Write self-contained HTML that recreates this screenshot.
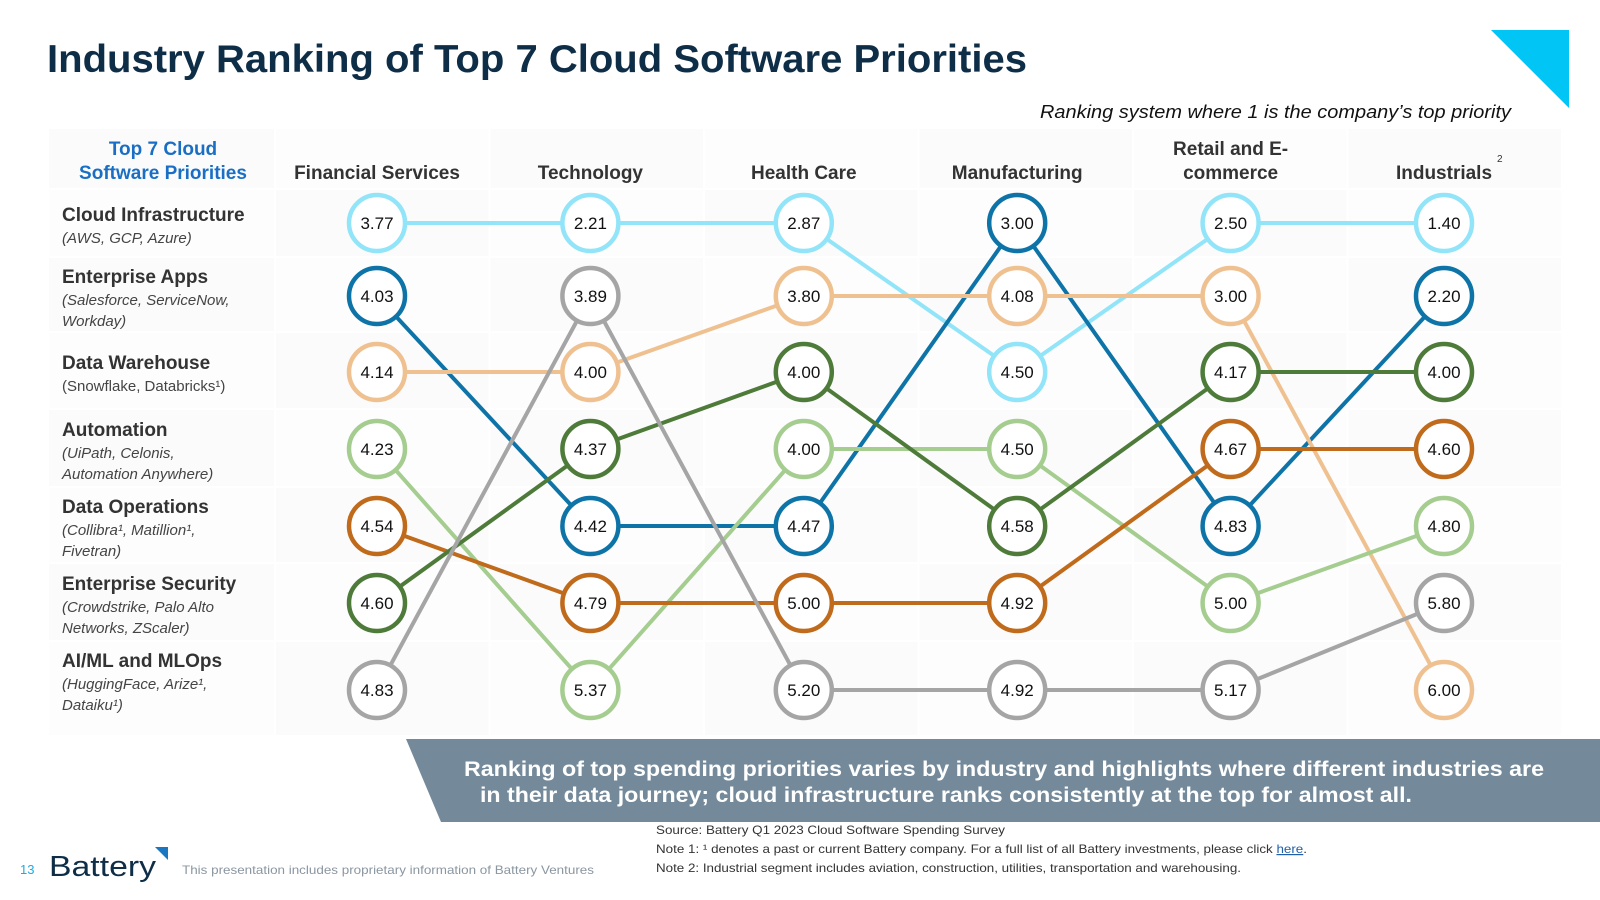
<!DOCTYPE html>
<html><head><meta charset="utf-8">
<style>
html,body{margin:0;padding:0;background:#fff;}
svg{display:block;font-family:"Liberation Sans",Arial,sans-serif;}
</style></head>
<body>
<svg id="chart" width="1600" height="900" viewBox="0 0 1600 900" xmlns="http://www.w3.org/2000/svg">
  <text x="47" y="72" font-size="39" font-weight="bold" fill="#0e2d47" textLength="980" lengthAdjust="spacingAndGlyphs">Industry Ranking of Top 7 Cloud Software Priorities</text>
  <polygon points="1491,30 1569,30 1569,108" fill="#00c5f5"/>
  <text x="1040" y="118" font-size="18" font-style="italic" fill="#111" textLength="471" lengthAdjust="spacingAndGlyphs">Ranking system where 1 is the company’s top priority</text>
  <g id="table-bg"></g>
  <text x="163" y="155" font-size="19" font-weight="bold" fill="#1a6fc4" text-anchor="middle">Top 7 Cloud</text>
  <text x="163" y="179" font-size="19" font-weight="bold" fill="#1a6fc4" text-anchor="middle">Software Priorities</text>
  <g id="labels"></g>
  <g id="lines"></g>
  <g id="circles"></g>
  <polygon points="406,739 1600,739 1600,822 441,822" fill="#748a9b"/>
  <text x="464" y="776" font-size="21" font-weight="bold" fill="#fff" textLength="1080" lengthAdjust="spacingAndGlyphs">Ranking of top spending priorities varies by industry and highlights where different industries are</text>
  <text x="480" y="802" font-size="21" font-weight="bold" fill="#fff" textLength="932" lengthAdjust="spacingAndGlyphs">in their data journey; cloud infrastructure ranks consistently at the top for almost all.</text>
  <text x="656" y="834" font-size="12" fill="#333" textLength="349" lengthAdjust="spacingAndGlyphs">Source: Battery Q1 2023 Cloud Software Spending Survey</text>
  <text x="656" y="853" font-size="12" fill="#333" textLength="651" lengthAdjust="spacingAndGlyphs">Note 1: ¹ denotes a past or current Battery company. For a full list of all Battery investments, please click <tspan fill="#1f5fa8" text-decoration="underline">here</tspan>.</text>
  <text x="656" y="872" font-size="12" fill="#333" textLength="585" lengthAdjust="spacingAndGlyphs">Note 2: Industrial segment includes aviation, construction, utilities, transportation and warehousing.</text>
  <text x="20" y="874" font-size="13" fill="#27a9d8">13</text>
  <text x="49" y="876" font-size="29" fill="#0e2d47" textLength="107" lengthAdjust="spacingAndGlyphs">Battery</text>
  <polygon points="155,847 168,847 168,860" fill="#1a78c2"/>
  <text x="182" y="874" font-size="12" fill="#8a96a0" textLength="412" lengthAdjust="spacingAndGlyphs">This presentation includes proprietary information of Battery Ventures</text>
</svg>
<script>
const industries = ["Financial Services","Technology","Health Care","Manufacturing","Retail and E-commerce","Industrials"];
const priorities = ["Cloud Infrastructure","Enterprise Apps","Data Warehouse","Automation","Data Operations","Enterprise Security","AI/ML and MLOps"];
const subtitles = [["(AWS, GCP, Azure)"],["(Salesforce, ServiceNow,","Workday)"],["(Snowflake, Databricks¹)"],["(UiPath, Celonis,","Automation Anywhere)"],["(Collibra¹, Matillion¹,","Fivetran)"],["(Crowdstrike, Palo Alto","Networks, ZScaler)"],["(HuggingFace, Arize¹,","Dataiku¹)"]];
const cloudInfra   = [3.77,2.21,2.87,4.50,2.50,1.40];
const enterpriseApps = [4.03,4.42,4.47,3.00,4.83,2.20];
const dataWarehouse = [4.14,4.00,3.80,4.08,3.00,6.00];
const automation   = [4.23,5.37,4.00,4.50,5.00,4.80];
const dataOps      = [4.54,4.79,5.00,4.92,4.67,4.60];
const entSecurity  = [4.60,4.37,4.00,4.58,4.17,4.00];
const aiml         = [4.83,3.89,5.20,4.92,5.17,5.80];
const seriesValues = [cloudInfra,enterpriseApps,dataWarehouse,automation,dataOps,entSecurity,aiml];
const seriesColors = ["#92e4f8","#0e74a8","#f0c190","#a5cd90","#c06a1c","#4e7b3a","#a5a5a5"];

const NS="http://www.w3.org/2000/svg";
const colX = i => 377 + i*213.4;
const rowY = r => [223,296,372,449,526,603,690][r];
function mk(tag,attrs,parent){const e=document.createElementNS(NS,tag);for(const k in attrs)e.setAttribute(k,attrs[k]);parent.appendChild(e);return e;}

const ranks = seriesValues.map(()=>[]);
for(let c=0;c<industries.length;c++){
  const idx = seriesValues.map((_,i)=>i);
  idx.sort((a,b)=>{const d=seriesValues[a][c]-seriesValues[b][c]; if(Math.abs(d)>1e-9) return d; return c>0?ranks[a][c-1]-ranks[b][c-1]:a-b;});
  idx.forEach((s,r)=>ranks[s][c]=r);
}

const bg=document.getElementById('table-bg');
const rowBounds=[129,190,258,333,410,488,564,642,737];
for(let r=0;r<8;r++){
  for(let c=0;c<7;c++){
    const x0 = c===0?49:(c===1?276:276+(c-1)*214.5);
    const w = c===0?225:212.5;
    const rc=mk('rect',{x:x0,y:rowBounds[r],width:w,height:rowBounds[r+1]-rowBounds[r]-2,fill:(r+c)%2?'#fdfdfd':'#fbfbfb'},bg);
    
    
  }
}

const lab=document.getElementById('labels');
industries.forEach((n,i)=>{
  if(n==="Retail and E-commerce"){
    const t1=mk('text',{x:colX(i),y:155,'font-size':19,'font-weight':'bold',fill:'#333','text-anchor':'middle'},lab);t1.textContent="Retail and E-";
    
    
    const t2=mk('text',{x:colX(i),y:179,'font-size':19,'font-weight':'bold',fill:'#333','text-anchor':'middle'},lab);t2.textContent="commerce";
    
    
  } else {
    const t=mk('text',{x:colX(i),y:179,'font-size':19,'font-weight':'bold',fill:'#333','text-anchor':'middle'},lab);t.textContent=n;
    
    
  }
});
const sup=mk('text',{x:1497,y:162,'font-size':10,fill:'#333'},lab);sup.textContent="2";



const labelTop=[221,283,369,436,513,590,667];
priorities.forEach((p,i)=>{
  const t=mk('text',{x:62,y:labelTop[i],'font-size':19,'font-weight':'bold',fill:'#333'},lab);t.textContent=p;
  
  
  subtitles[i].forEach((s,j)=>{
    const st=mk('text',{x:62,y:labelTop[i]+22+j*21,'font-size':15,'font-style':i===2?'normal':'italic',fill:'#444'},lab);st.textContent=s;
    
    
  });
});

const lg=document.getElementById('lines'), cg=document.getElementById('circles');
seriesValues.forEach((vals,s)=>{
  const pts=vals.map((v,c)=>colX(c)+','+rowY(ranks[s][c])).join(' ');
  const pl=mk('polyline',{points:pts,fill:'none',stroke:seriesColors[s],'stroke-width':4},lg);
  
  
  vals.forEach((v,c)=>{
    const ci=mk('circle',{cx:colX(c),cy:rowY(ranks[s][c]),r:28,fill:'#fff',stroke:seriesColors[s],'stroke-width':4.5},cg);
    
    
    const tx=mk('text',{x:colX(c),y:rowY(ranks[s][c])+6,'font-size':17,fill:'#111','text-anchor':'middle'},cg);
    tx.textContent=v.toFixed(2);
    
    
  });
});
</script>
</body></html>
